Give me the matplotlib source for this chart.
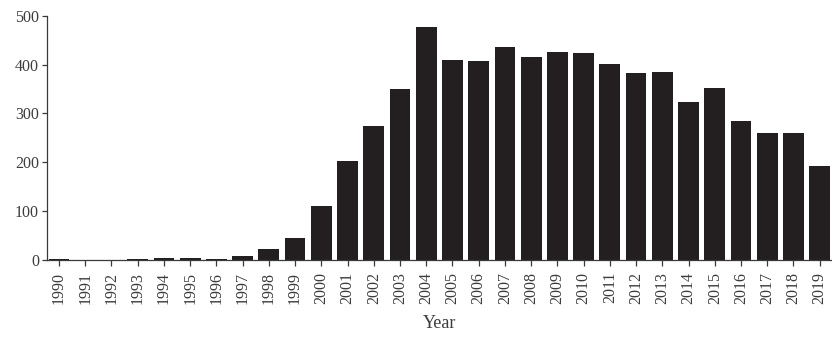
import numpy as np
import matplotlib
matplotlib.use('Agg')
import matplotlib.pyplot as plt

# publications per year
years = list(range(1990, 2020))
counts = [2, 0, 0, 2, 4, 4, 2, 9, 23, 44,
          111, 203, 274, 350, 476, 410, 408, 436, 415, 426,
          423, 402, 382, 384, 324, 353, 285, 259, 260, 193]
y_ticks = [0, 100, 200, 300, 400, 500]

bar_color = '#231f20'
axis_color = '#3a3a3a'


def main():
    plt.rcParams['font.family'] = ['Liberation Serif', 'DejaVu Serif']

    fig = plt.figure(figsize=(8.32, 3.45), dpi=100)
    ax = fig.add_axes([0.0561, 0.2464, 1 - 0.0561, 0.9545 - 0.2464])

    ax.bar(years, counts, width=0.79, color=bar_color, edgecolor='none')

    ax.set_xlim(1989.53, 2019.47)
    ax.set_ylim(0, 500)
    ax.set_yticks(y_ticks)
    ax.set_xticks(years)
    ax.set_xticklabels([str(y) for y in years], rotation=90)

    for side in ('top', 'right'):
        ax.spines[side].set_visible(False)
    for side in ('left', 'bottom'):
        ax.spines[side].set_color(axis_color)
        ax.spines[side].set_linewidth(0.9)

    ax.tick_params(axis='both', colors=axis_color, labelcolor='#3c3c3c',
                   width=0.9, labelsize=11.5)
    ax.tick_params(axis='x', length=4.5, pad=4)
    ax.tick_params(axis='y', length=3.5, pad=2)

    ax.set_xlabel('Year', fontsize=13, color='#3c3c3c', labelpad=8)

    fig.savefig('out.png', dpi=100)


if __name__ == '__main__':
    main()
